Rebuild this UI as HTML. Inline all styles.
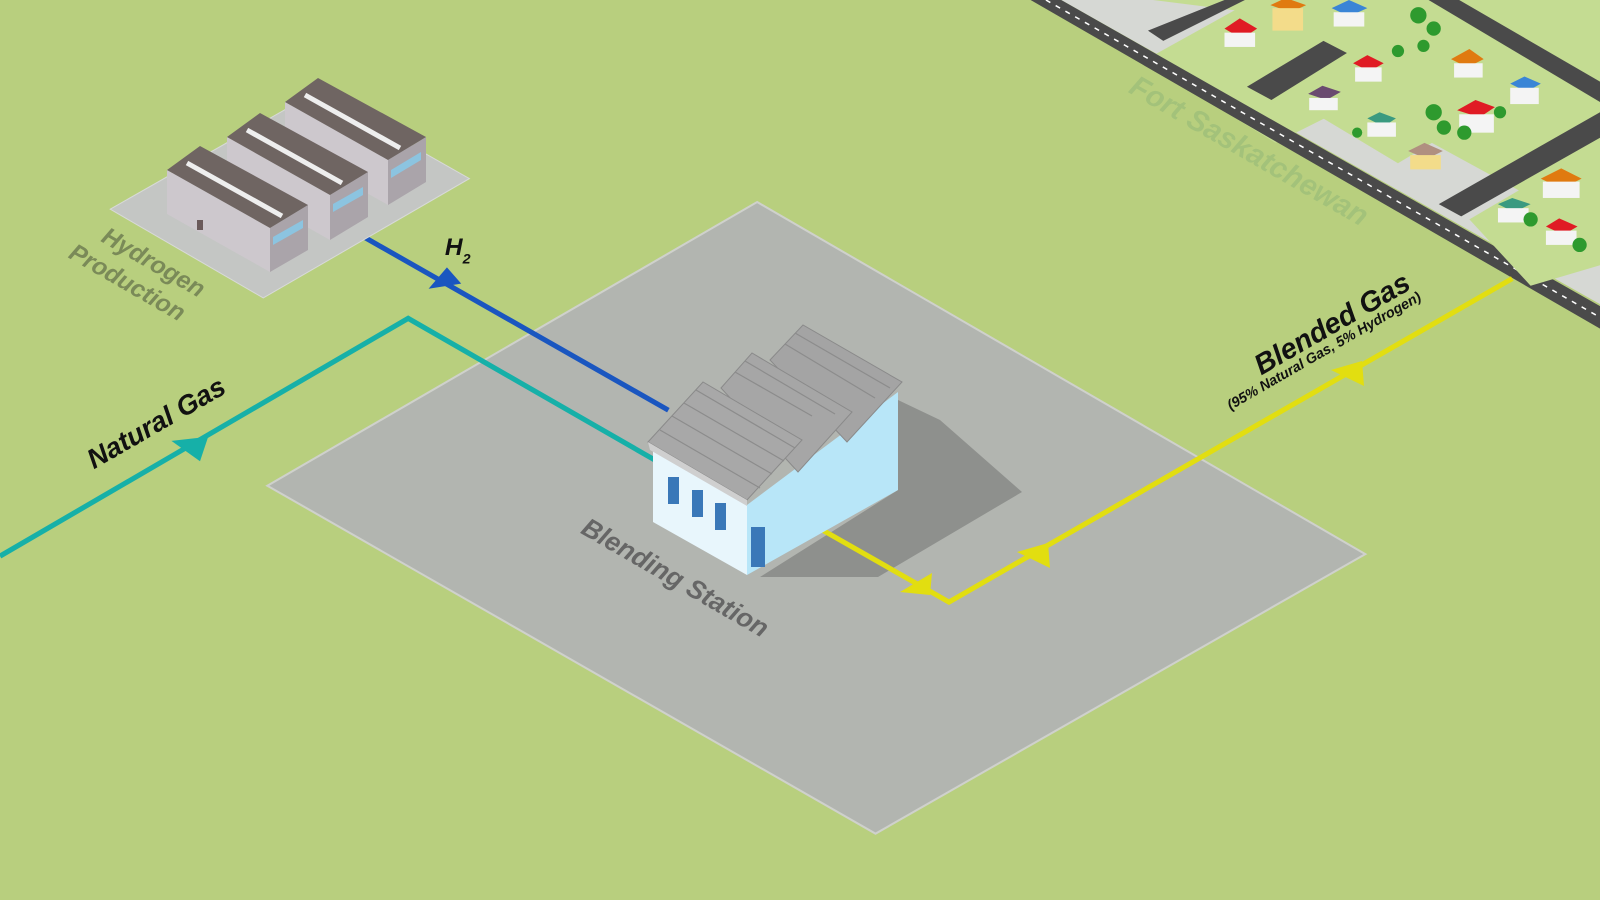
<!DOCTYPE html>
<html><head><meta charset="utf-8"><style>
html,body{margin:0;padding:0;width:1600px;height:900px;overflow:hidden;background:#b8cf7e}
svg{display:block}
text{font-family:"Liberation Sans","DejaVu Sans",sans-serif;font-style:italic;font-weight:bold}
</style></head><body>
<svg width="1600" height="900" viewBox="0 0 1568 882" xmlns="http://www.w3.org/2000/svg">
<rect width="1568" height="882" fill="#b8cf7e"/>
<!-- town -->
<polygon points="1040,0 1568,0 1568,298" fill="#d6d8d4"/>
<polygon points="1130,0 1568,0 1568,230 1330,100 1250,140 1120,60 1210,10" fill="#c4dc92"/>
<polygon points="1010,0 1040,0 1568,300 1568,322" fill="#4a4a4a"/>
<line x1="1025" y1="0" x2="1568" y2="311" stroke="#fff" stroke-width="1.5" stroke-dasharray="5,6"/>
<polygon points="1125,30 1200,0 1220,0 1140,40" fill="#4a4a4a"/>
<polygon points="1222,85 1297,40 1320,52 1246,98" fill="#4a4a4a"/>
<polygon points="1400,0 1430,0 1568,80 1568,100" fill="#4a4a4a"/>
<polygon points="1410,200 1568,110 1568,135 1432,212" fill="#4a4a4a"/>
<polygon points="1440,215 1568,140 1568,260 1500,280" fill="#c4dc92"/>
<polygon points="1270,100 1340,60 1440,118 1370,160" fill="#c4dc92"/>
<g>
<polygon points="1200,28 1215,18 1232,28 1217,38" fill="#e01b24"/><rect x="1200" y="32" width="30" height="14" fill="#f4f4f4"/>
<polygon points="1245,5 1260,-2 1280,5 1265,12" fill="#e07a10"/><rect x="1247" y="8" width="30" height="22" fill="#f3dc8a"/>
<polygon points="1305,8 1322,0 1340,8 1322,16" fill="#3a85d6"/><rect x="1307" y="12" width="30" height="14" fill="#f4f4f4"/>
<polygon points="1326,62 1340,54 1356,62 1342,70" fill="#e01b24"/><rect x="1328" y="66" width="26" height="14" fill="#f4f4f4"/>
<polygon points="1282,92 1296,84 1314,90 1300,98" fill="#6a4a70"/><rect x="1283" y="96" width="28" height="12" fill="#f4f4f4"/>
<polygon points="1340,116 1352,110 1368,116 1356,124" fill="#3a9a80"/><rect x="1340" y="120" width="28" height="14" fill="#f4f4f4"/>
<polygon points="1422,58 1440,48 1454,58 1438,66" fill="#e07a10"/><rect x="1425" y="62" width="28" height="14" fill="#f4f4f4"/>
<polygon points="1480,82 1494,75 1510,82 1496,90" fill="#3a85d6"/><rect x="1480" y="86" width="28" height="16" fill="#f4f4f4"/>
<polygon points="1428,108 1446,98 1465,105 1450,115" fill="#e01b24"/><rect x="1430" y="112" width="34" height="18" fill="#f4f4f4"/>
<polygon points="1380,148 1396,140 1414,148 1398,156" fill="#b09080"/><rect x="1382" y="152" width="30" height="14" fill="#f3dc8a"/>
<polygon points="1510,175 1530,165 1550,175 1530,185" fill="#e07a10"/><rect x="1512" y="178" width="36" height="16" fill="#f4f4f4"/>
<polygon points="1468,200 1482,194 1500,200 1484,208" fill="#3a9a80"/><rect x="1468" y="204" width="30" height="14" fill="#f4f4f4"/>
<polygon points="1515,222 1528,214 1546,222 1532,230" fill="#e01b24"/><rect x="1515" y="226" width="30" height="14" fill="#f4f4f4"/>
<g fill="#2e9a2e"><circle cx="1390" cy="15" r="8"/><circle cx="1405" cy="28" r="7"/><circle cx="1370" cy="50" r="6"/><circle cx="1395" cy="45" r="6"/><circle cx="1405" cy="110" r="8"/><circle cx="1415" cy="125" r="7"/><circle cx="1435" cy="130" r="7"/><circle cx="1470" cy="110" r="6"/><circle cx="1500" cy="215" r="7"/><circle cx="1548" cy="240" r="7"/><circle cx="1330" cy="130" r="5"/></g>
</g>
<text x="0" y="0" font-size="29" fill="#a3c27a" font-weight="normal" transform="translate(1105,90) rotate(30)">Fort Saskatchewan</text>
<!-- plaza -->
<polygon points="742,198 1338,543 858,817 262,476" fill="#b2b5b0" stroke="#cfd1cc" stroke-width="2"/>
<!-- shadow -->
<g transform="scale(0.98)">
<polygon points="898,400 940,420 1022,492 878,577 760,577 898,490" fill="#8e908d"/>
</g>
<!-- pipes -->
<polyline points="0,545 400,312 642,451" fill="none" stroke="#16b0a8" stroke-width="5"/>
<line x1="358" y1="233" x2="655" y2="402" stroke="#1a56c0" stroke-width="5"/>
<polyline points="800,516 930,590 1482,273" fill="none" stroke="#e2de10" stroke-width="5"/>
<polygon points="168,432 204,428 196,452" fill="#16b0a8"/>
<polygon points="420,283 452,278 438,262" fill="#1a56c0"/>
<g transform="scale(0.98)" fill="#e2de10">
<polygon points="900,592 932,573 930,595"/>
<polygon points="1017,552 1048,543 1050,568"/>
<polygon points="1331,370 1362,361 1364,386"/>
</g>
<!-- building -->
<g transform="scale(0.98)">
<polygon points="653,450 747,505 747,575 653,522" fill="#e8f6fc"/>
<polygon points="747,505 898,392 898,490 747,575" fill="#b8e6f8"/>
<g stroke="#8a8a8a" stroke-width="1">
<polygon points="770,360 803,325 902,382 847,442" fill="#a4a4a4"/>
<polygon points="721,388 752,353 852,412 798,472" fill="#a6a6a6"/>
<polygon points="648,442 703,382 802,440 747,500" fill="#a8a8a8"/>
</g>
<g stroke="#8c8c8c" stroke-width="1.2">
<line x1="660" y1="430" x2="760" y2="488"/><line x1="672" y1="416" x2="772" y2="474"/><line x1="684" y1="403" x2="784" y2="461"/><line x1="696" y1="390" x2="795" y2="448"/>
<line x1="735" y1="372" x2="812" y2="416"/><line x1="745" y1="361" x2="835" y2="414"/>
<line x1="785" y1="344" x2="875" y2="398"/><line x1="795" y1="333" x2="890" y2="388"/>
</g>
<polygon points="648,442 747,500 747,506 650,450" fill="#cfcfcf"/>
<g fill="#3a78b8"><rect x="668" y="477" width="11" height="27"/><rect x="692" y="490" width="11" height="27"/><rect x="715" y="503" width="11" height="27"/><rect x="751" y="527" width="14" height="40"/></g>
</g>
<!-- factory -->
<polygon points="108,205 310,90 460,175 258,292" fill="#c4c6c4" stroke="#d8dad8"/>
<g transform="scale(0.98)">
<polygon points="285,102 388,160 388,205 285,147" fill="#cdc8cd"/><polygon points="388,160 426,137 426,182 388,205" fill="#aaa4aa"/>
<polygon points="285,102 318,78 426,137 388,160" fill="#6f6562"/><line x1="305" y1="95" x2="400" y2="148" stroke="#eee" stroke-width="5"/>
<polygon points="227,137 330,195 330,240 227,182" fill="#cdc8cd"/><polygon points="330,195 368,172 368,217 330,240" fill="#aaa4aa"/>
<polygon points="227,137 260,113 368,172 330,195" fill="#6f6562"/><line x1="247" y1="130" x2="342" y2="183" stroke="#eee" stroke-width="5"/>
<polygon points="167,170 270,228 270,272 167,214" fill="#cdc8cd"/><polygon points="270,228 308,205 308,250 270,272" fill="#aaa4aa"/>
<polygon points="167,170 200,146 308,205 270,228" fill="#6f6562"/><line x1="187" y1="163" x2="282" y2="216" stroke="#eee" stroke-width="5"/>
<rect x="197" y="220" width="6" height="10" fill="#6a5a5a"/>
<g fill="#8cc4e0"><polygon points="273,237 303,220 303,228 273,245"/><polygon points="333,204 363,187 363,195 333,212"/><polygon points="391,170 421,152 421,160 391,178"/></g>
</g>
<text font-size="24" fill="#7a8a58" transform="translate(98,236) rotate(30)">Hydrogen</text>
<text font-size="24" fill="#7a8a58" transform="translate(66,252) rotate(30)">Production</text>
<text font-size="24" fill="#111" font-style="normal" font-weight="normal" x="436" y="250">H<tspan font-size="14" dy="8">2</tspan></text>
<text font-size="27" fill="#111" transform="translate(92,460) rotate(-30)">Natural Gas</text>
<text font-size="26" fill="#666" transform="translate(568,522) rotate(30)">Blending Station</text>
<text font-size="28" fill="#111" transform="translate(1236,368) rotate(-30)">Blended Gas</text>
<text font-size="14" fill="#111" font-weight="normal" transform="translate(1206,402) rotate(-30)">(95% Natural Gas, 5% Hydrogen)</text>
</svg>
</body></html>
